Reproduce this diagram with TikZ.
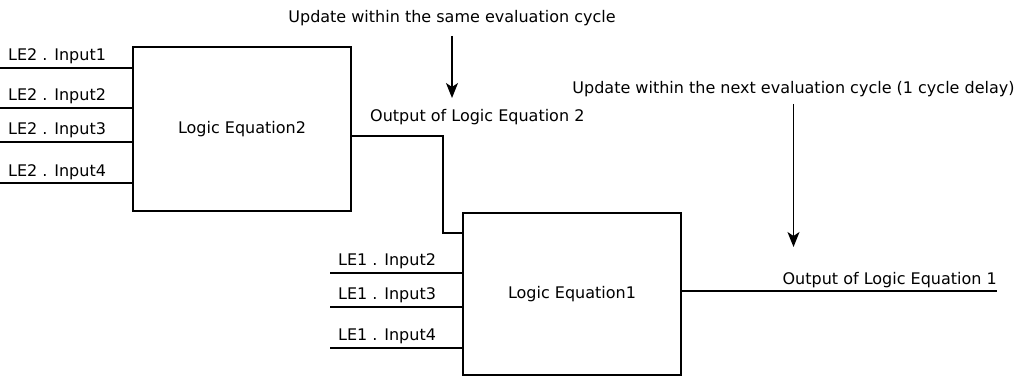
\documentclass[tikz,border=0pt]{standalone}
\usepackage{fontspec}
\setmainfont{DejaVu Sans}
\usetikzlibrary{arrows.meta}
\begin{document}
\begin{tikzpicture}[x=1pt,y=-1pt,
  every node/.style={font=\fontsize{16}{19}\selectfont, inner sep=0pt},
  wire/.style={line width=1.3pt, draw=black},
  blockbox/.style={draw=black, line width=1.3pt, minimum width=218pt, inner sep=0pt},
  lbl/.style={anchor=base west},
  note/.style={anchor=base},
  down/.style={line width=1.3pt, -{Stealth[length=15pt,width=12pt,inset=4pt]}}]
\useasboundingbox (0,0) rectangle (1020,377);
% blocks
\node[blockbox, minimum height=164pt] (b2) at (242,129) {Logic Equation2};
\node[blockbox, minimum height=162pt] (b1) at (572,294) {Logic Equation1};
% LE2 inputs
\foreach \y/\n in {68/1,108/2,142/3,183/4}{
  \coordinate (a\n) at (0,\y);
  \draw[wire] (a\n) -- (a\n -| b2.west);
  \node[lbl] (la\n) at (8,\y-7) {LE2 . Input\n};
}
% LE1 inputs
\foreach \y/\n in {273/2,307/3,348/4}{
  \coordinate (c\n) at (330,\y);
  \draw[wire] (c\n) -- (c\n -| b1.west);
  \node[lbl] (lc\n) at (338,\y-7.5) {LE1 . Input\n};
}
% connection LE2 -> LE1
\coordinate (o2) at (351,136);
\coordinate (i1) at (463,233);
\draw[wire] (b2.east |- o2) -- (443,136) -- (443,233) -- (b1.west |- i1);
\node[lbl] (to2) at (370,121.5) {Output of Logic Equation 2};
% output LE1
\coordinate (o1end) at (997,291);
\draw[wire] (b1.east |- o1end) -- (o1end);
\node[anchor=base east] (to1) at (997,284) {Output of Logic Equation 1};
% notes
\node[note] (n1) at (452,22.5) {Update within the same evaluation cycle};
\coordinate (n1s) at (452,36);
\coordinate (n1e) at (452,98);
\draw[down] (n1s) -- (n1e);
\node[note] (n2) at (793.5,93.5) {Update within the next evaluation cycle (1 cycle delay)};
\coordinate (n2s) at (793.5,104);
\coordinate (n2e) at (793.5,247);
\draw[down] (n2s) -- (n2e);
\end{tikzpicture}
\end{document}
